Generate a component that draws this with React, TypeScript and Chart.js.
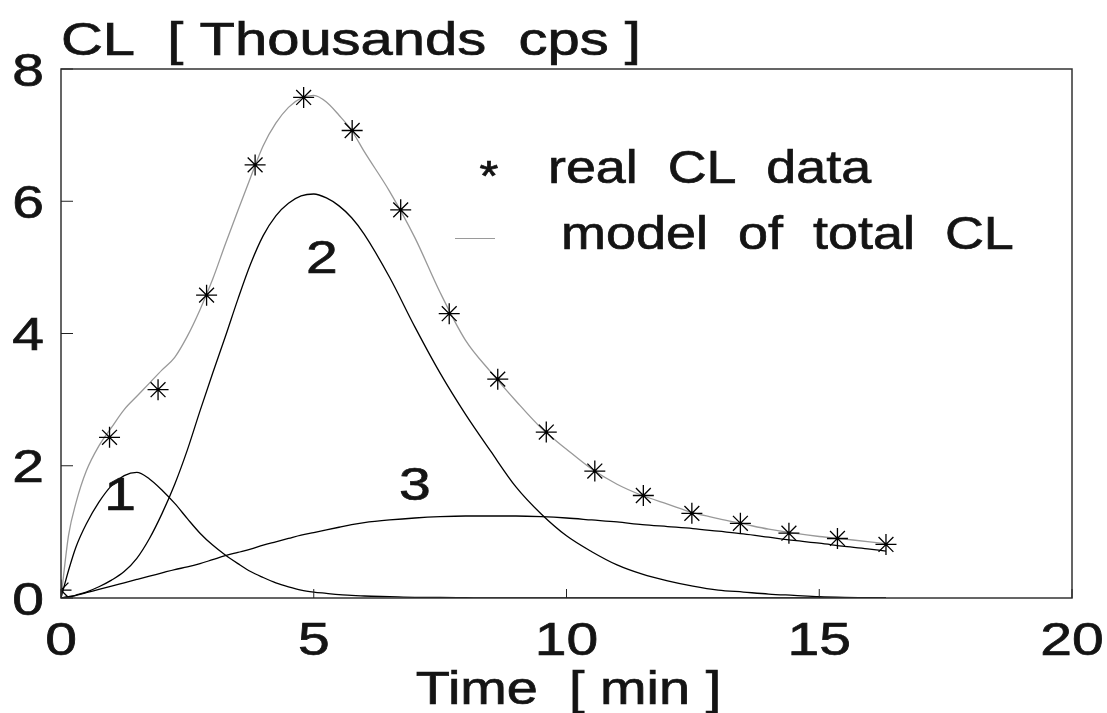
import React, { useEffect, useRef } from 'react';
import { Chart, registerables } from 'chart.js';

Chart.register(...registerables);

// ---- measured data (time in minutes, CL in thousands cps) ----
const starTimes = [0, 0.96, 1.92, 2.88, 3.84, 4.8, 5.76, 6.72, 7.68, 8.64, 9.6, 10.56, 11.52, 12.48, 13.44, 14.4, 15.36, 16.32];
const realCL = [0.12, 2.43, 3.15, 4.58, 6.55, 7.57, 7.07, 5.87, 4.3, 3.31, 2.51, 1.92, 1.55, 1.28, 1.13, 0.98, 0.9, 0.81];

// ---- model curves sampled on a common time grid ----
const modelTimes = [0, 0.15, 0.3, 0.5, 0.75, 1, 1.25, 1.5, 1.75, 2, 2.25, 2.5, 2.75, 3, 3.25, 3.5, 3.75, 4, 4.25, 4.5, 4.75, 5, 5.25, 5.5, 5.75, 6, 6.5, 7, 7.5, 8, 8.5, 9, 9.5, 10, 10.5, 11, 11.5, 12, 12.5, 13, 13.5, 14, 14.5, 15, 15.5, 16, 16.32];
const modelTotal = [0, 0.95, 1.45, 1.92, 2.3, 2.58, 2.85, 3.05, 3.25, 3.45, 3.64, 3.96, 4.36, 4.82, 5.35, 5.86, 6.36, 6.84, 7.18, 7.42, 7.56, 7.6, 7.5, 7.3, 7.07, 6.75, 6.15, 5.45, 4.62, 3.9, 3.42, 2.98, 2.57, 2.25, 1.95, 1.72, 1.55, 1.42, 1.29, 1.2, 1.12, 1.04, 0.98, 0.93, 0.89, 0.85, 0.82];
const component1 = [0, 0.42, 0.78, 1.12, 1.45, 1.7, 1.85, 1.9, 1.8, 1.63, 1.43, 1.2, 0.98, 0.8, 0.65, 0.52, 0.4, 0.31, 0.23, 0.17, 0.12, 0.09, 0.07, 0.05, 0.04, 0.03, 0.02, 0.01, 0.01, 0.005, 0, 0, 0, 0, 0, 0, 0, 0, 0, 0, 0, 0, 0, 0, 0, 0, 0];
const component2 = [0, 0.015, 0.045, 0.09, 0.17, 0.27, 0.4, 0.6, 0.9, 1.28, 1.72, 2.24, 2.83, 3.4, 3.95, 4.52, 5.05, 5.48, 5.78, 5.97, 6.08, 6.11, 6.05, 5.93, 5.75, 5.5, 4.85, 4.1, 3.4, 2.78, 2.22, 1.68, 1.27, 0.94, 0.7, 0.5, 0.36, 0.26, 0.18, 0.12, 0.09, 0.06, 0.04, 0.02, 0.01, 0.005, 0];
const component3 = [0, 0.02, 0.04, 0.08, 0.13, 0.18, 0.23, 0.28, 0.33, 0.38, 0.43, 0.47, 0.52, 0.58, 0.64, 0.69, 0.74, 0.8, 0.85, 0.9, 0.95, 0.99, 1.03, 1.07, 1.11, 1.14, 1.18, 1.21, 1.23, 1.24, 1.24, 1.24, 1.23, 1.21, 1.18, 1.15, 1.11, 1.08, 1.05, 1.01, 0.97, 0.92, 0.87, 0.83, 0.78, 0.74, 0.71];

// ---- texts ----
const yAxisTitle = 'CL  [ Thousands  cps ]';
const xAxisTitle = 'Time  [ min ]';
const legendLabels = ['real  CL  data', 'model  of  total  CL'];
const componentLabels = ['1', '2', '3'];
// anchor of each component label, in data units (time, CL)
const componentLabelTimes = [1.17, 5.16, 7.0];
const componentLabelValues = [1.52, 5.1, 1.67];

const FONT = '"Liberation Sans", Arial, sans-serif';
const INK = '#141414';

function stretchText(
  ctx: CanvasRenderingContext2D,
  text: string,
  x: number,
  y: number,
  size: number,
  k: number,
  align: 'left' | 'center' | 'right',
  baseline: CanvasTextBaseline
) {
  ctx.save();
  ctx.font = `${size}px ${FONT}`;
  ctx.textBaseline = baseline;
  ctx.textAlign = 'left';
  const w = ctx.measureText(text).width * k;
  let x0 = x;
  if (align === 'center') x0 = x - w / 2;
  else if (align === 'right') x0 = x - w;
  ctx.translate(x0, y);
  ctx.scale(k, 1);
  ctx.fillStyle = INK;
  ctx.strokeStyle = INK;
  ctx.lineWidth = 0.7;
  ctx.fillText(text, 0, 0);
  ctx.strokeText(text, 0, 0);
  ctx.restore();
}

const decorPlugin = {
  id: 'decor',
  afterDraw(chart: any) {
    const { ctx, chartArea: a } = chart;
    const xs = chart.scales.x;
    const ys = chart.scales.y;
    ctx.save();
    // frame
    ctx.strokeStyle = '#333';
    ctx.lineWidth = 1.5;
    ctx.strokeRect(a.left, a.top, a.right - a.left, a.bottom - a.top);
    // inward tick marks
    ctx.lineWidth = 1;
    ctx.strokeStyle = '#222';
    ctx.beginPath();
    for (const t of xs.ticks) {
      const px = xs.getPixelForValue(t.value);
      ctx.moveTo(px, a.bottom);
      ctx.lineTo(px, a.bottom - 9);
    }
    for (const t of ys.ticks) {
      const py = ys.getPixelForValue(t.value);
      ctx.moveTo(a.left, py);
      ctx.lineTo(a.left + 12, py);
    }
    ctx.stroke();
    ctx.restore();

    // tick labels
    for (const t of xs.ticks) {
      stretchText(ctx, String(t.value), xs.getPixelForValue(t.value), a.bottom + 44, 46, 1.24, 'center', 'middle');
    }
    for (const t of ys.ticks) {
      stretchText(ctx, String(t.value), a.left - 17, ys.getPixelForValue(t.value) + 4, 46, 1.24, 'right', 'middle');
    }

    // axis titles
    stretchText(ctx, yAxisTitle, a.left, a.top - 14, 46, 1.26, 'left', 'alphabetic');
    stretchText(ctx, xAxisTitle, (a.left + a.right) / 2 + 2, a.bottom + 106, 46, 1.215, 'center', 'alphabetic');

    // legend
    stretchText(ctx, '*', 489, 190, 42, 1.15, 'center', 'alphabetic');
    stretchText(ctx, legendLabels[0], 548, 183, 46, 1.17, 'left', 'alphabetic');
    ctx.save();
    ctx.strokeStyle = '#9a9a9a';
    ctx.lineWidth = 1.2;
    ctx.beginPath();
    ctx.moveTo(455, 238.5);
    ctx.lineTo(495, 238.5);
    ctx.stroke();
    ctx.restore();
    stretchText(ctx, legendLabels[1], 561, 249, 46, 1.173, 'left', 'alphabetic');

    // component labels
    componentLabels.forEach((lab, i) => {
      stretchText(
        ctx,
        lab,
        xs.getPixelForValue(componentLabelTimes[i]),
        ys.getPixelForValue(componentLabelValues[i]),
        46,
        1.24,
        'center',
        'middle'
      );
    });
  },
};

function pts(xsArr: number[], ysArr: number[]) {
  return xsArr.map((x, i) => ({ x, y: ysArr[i] }));
}

export default function App() {
  const ref = useRef<HTMLCanvasElement | null>(null);

  useEffect(() => {
    document.body.style.margin = '0';
    const canvas = ref.current;
    if (!canvas) return;
    const curve = (data: number[], color: string, width: number) => ({
      data: pts(modelTimes, data),
      borderColor: color,
      backgroundColor: color,
      borderWidth: width,
      pointRadius: 0,
      fill: false,
      cubicInterpolationMode: 'monotone' as const,
    });
    const chart = new Chart(canvas, {
      type: 'line',
      data: {
        datasets: [
          {
            label: 'real CL data',
            data: pts(starTimes, realCL),
            showLine: false,
            pointStyle: 'star',
            pointRadius: 10.5,
            pointBorderWidth: 1.3,
            pointBorderColor: '#000',
            pointBackgroundColor: '#000',
            borderColor: '#000',
            backgroundColor: '#000',
          } as any,
          { label: 'model of total CL', ...curve(modelTotal, '#999', 1.3) },
          { label: '1', ...curve(component1, '#000', 1.3) },
          { label: '2', ...curve(component2, '#000', 1.3) },
          { label: '3', ...curve(component3, '#000', 1.3) },
        ],
      },
      options: {
        responsive: false,
        animation: false,
        devicePixelRatio: 1,
        events: [],
        layout: { padding: { left: 0, top: 69, right: 35, bottom: 0 } },
        plugins: {
          legend: { display: false },
          tooltip: { enabled: false },
          title: { display: false },
        },
        scales: {
          x: {
            type: 'linear',
            min: 0,
            max: 20,
            ticks: { stepSize: 5, display: false },
            grid: { display: false },
            border: { display: false },
            afterFit: (s: any) => {
              s.height = 115;
            },
          },
          y: {
            type: 'linear',
            min: 0,
            max: 8,
            ticks: { stepSize: 2, display: false },
            grid: { display: false },
            border: { display: false },
            afterFit: (s: any) => {
              s.width = 61;
            },
          },
        },
      },
      plugins: [decorPlugin],
    });
    return () => chart.destroy();
  }, []);

  return (
    <div style={{ width: 1107, height: 713, background: '#fff' }}>
      <canvas ref={ref} width={1107} height={713} style={{ display: 'block' }} />
    </div>
  );
}
